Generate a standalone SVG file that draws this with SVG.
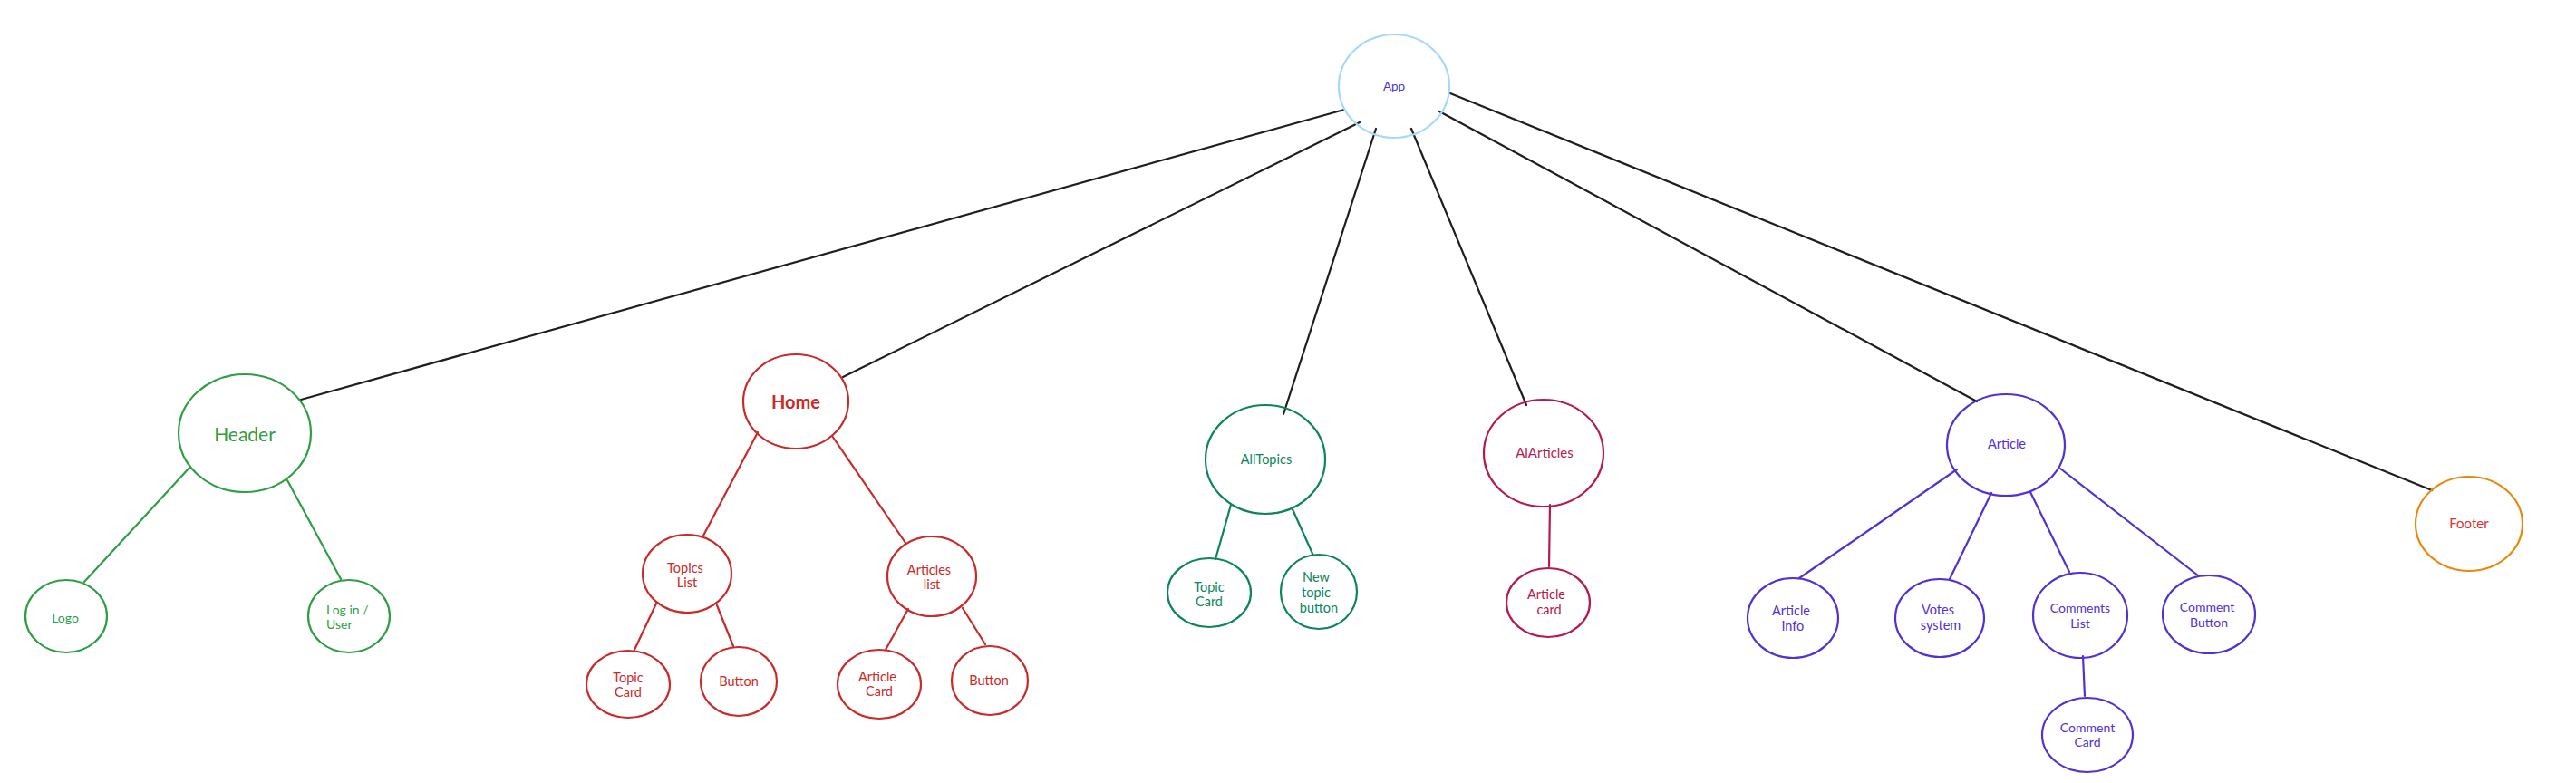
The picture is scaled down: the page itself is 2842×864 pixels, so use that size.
<svg xmlns="http://www.w3.org/2000/svg" width="2842" height="864" viewBox="0 0 2842 864">
<style>
text{font-family:"Lato","Noto Sans",sans-serif;text-anchor:middle;font-size:14px}
ellipse{fill:none;stroke-width:2.2}
line{stroke-width:2.2;stroke-linecap:round}
.blk{stroke:#1e1e1e}
.g{stroke:#2f9e44}.gt{fill:#2f9e44}
.r{stroke:#c92a2a}.rt{fill:#c92a2a}
.t{stroke:#0c8559}.tt{fill:#0c8559}
.c{stroke:#b5194d}.ct{fill:#b5194d}
.p{stroke:#5230d6}.pt{fill:#5230d6}
</style>
<rect width="2842" height="864" fill="#ffffff"/>
<g id="connectors">
<line class="blk" x1="1483" y1="121" x2="332" y2="441"/>
<line class="blk" x1="1500" y1="135" x2="930" y2="416" stroke-width="2.8"/>
<line class="blk" x1="1518" y1="142" x2="1416" y2="457" stroke-width="2.6"/>
<line class="blk" x1="1557" y1="142" x2="1684" y2="447" stroke-width="2.6"/>
<line class="blk" x1="1588" y1="123" x2="2181" y2="443"/>
<line class="blk" x1="1600" y1="103" x2="2683" y2="541" stroke-width="2.6"/>
<line class="g" x1="210" y1="515" x2="93" y2="642"/>
<line class="g" x1="317" y1="530" x2="376" y2="639"/>
<line class="r" x1="836" y1="477" x2="776" y2="591"/>
<line class="r" x1="918" y1="481" x2="999" y2="599"/>
<line class="r" x1="724" y1="666" x2="700" y2="717"/>
<line class="r" x1="791" y1="668" x2="809" y2="713"/>
<line class="r" x1="1002" y1="672" x2="977" y2="717"/>
<line class="r" x1="1062" y1="671" x2="1087" y2="711"/>
<line class="t" x1="1358" y1="557" x2="1341" y2="617"/>
<line class="t" x1="1426" y1="562" x2="1449" y2="613"/>
<line class="c" x1="1710" y1="557" x2="1709" y2="625"/>
<line class="p" x1="2159" y1="518" x2="1985" y2="638"/>
<line class="p" x1="2197" y1="544" x2="2151" y2="639"/>
<line class="p" x1="2240" y1="543" x2="2283" y2="631"/>
<line class="p" x1="2273" y1="517" x2="2425" y2="635"/>
<line class="p" x1="2298" y1="724" x2="2300" y2="768"/>
</g>
<g id="app"><ellipse cx="1538" cy="95" rx="61" ry="57" stroke="#a5d8ff"/><text x="1538" y="100" class="pt" style="font-size:13.5px">App</text></g>
<g id="header"><ellipse cx="270" cy="478" rx="73" ry="65" class="g"/><text x="270" y="487" class="gt" style="font-size:21px">Header</text></g>
<g id="logo"><ellipse cx="73" cy="680" rx="45" ry="40" class="g"/><text x="72" y="687" class="gt">Logo</text></g>
<g id="login"><ellipse cx="385" cy="680" rx="45" ry="40" class="g"/><text class="gt" style="text-anchor:start"><tspan x="360" y="678">Log in /</tspan><tspan x="360" y="694">User</tspan></text></g>
<g id="home"><ellipse cx="878" cy="443" rx="58" ry="52" class="r"/><text x="878" y="451" class="rt" style="font-size:20px;font-weight:bold">Home</text></g>
<g id="topics-list"><ellipse cx="758" cy="633" rx="49" ry="43" class="r"/><text class="rt" style="font-size:14.5px"><tspan x="756" y="632">Topics</tspan><tspan x="758" y="648">List</tspan></text></g>
<g id="articles-list"><ellipse cx="1028" cy="636" rx="49" ry="44" class="r"/><text class="rt" style="font-size:14.5px"><tspan x="1025" y="634">Articles</tspan><tspan x="1028" y="650">list</tspan></text></g>
<g id="topic-card"><ellipse cx="693" cy="755" rx="46" ry="37" class="r"/><text class="rt" style="font-size:14.5px"><tspan x="693" y="753">Topic</tspan><tspan x="693" y="769">Card</tspan></text></g>
<g id="button-1"><ellipse cx="815" cy="752" rx="42" ry="38" class="r"/><text x="815" y="757" class="rt" style="font-size:14.5px">Button</text></g>
<g id="article-card-home"><ellipse cx="970" cy="755" rx="46" ry="38" class="r"/><text class="rt" style="font-size:14.5px"><tspan x="968" y="752">Article</tspan><tspan x="970" y="768">Card</tspan></text></g>
<g id="button-2"><ellipse cx="1092" cy="751" rx="42" ry="38" class="r"/><text x="1091" y="756" class="rt" style="font-size:14.5px">Button</text></g>
<g id="alltopics"><ellipse cx="1396" cy="507" rx="66" ry="60" class="t"/><text x="1397" y="512" class="tt" style="font-size:14.5px">AllTopics</text></g>
<g id="topic-card-2"><ellipse cx="1334" cy="654" rx="46" ry="38" class="t"/><text class="tt" style="font-size:14.5px"><tspan x="1334" y="653">Topic</tspan><tspan x="1334" y="669">Card</tspan></text></g>
<g id="new-topic-button"><ellipse cx="1455" cy="653" rx="42" ry="41" class="t"/><text class="tt" style="font-size:14.5px"><tspan x="1452" y="642">New</tspan><tspan x="1452" y="659">topic</tspan><tspan x="1455" y="676">button</tspan></text></g>
<g id="alarticles"><ellipse cx="1703" cy="500" rx="66" ry="59" class="c"/><text x="1704" y="505" class="ct" style="font-size:15px">AlArticles</text></g>
<g id="article-card"><ellipse cx="1708" cy="665" rx="46" ry="38" class="c"/><text class="ct" style="font-size:14.5px"><tspan x="1706" y="661">Article</tspan><tspan x="1709" y="678">card</tspan></text></g>
<g id="article"><ellipse cx="2213" cy="491" rx="65" ry="56" class="p"/><text x="2214" y="495" class="pt" style="font-size:14.5px">Article</text></g>
<g id="article-info"><ellipse cx="1978" cy="682" rx="50" ry="44" class="p"/><text class="pt" style="font-size:14.5px"><tspan x="1976" y="679">Article</tspan><tspan x="1978" y="696">info</tspan></text></g>
<g id="votes-system"><ellipse cx="2140" cy="682" rx="49" ry="43" class="p"/><text class="pt" style="font-size:14.5px"><tspan x="2138" y="678">Votes</tspan><tspan x="2141" y="695">system</tspan></text></g>
<g id="comments-list"><ellipse cx="2295" cy="679" rx="52" ry="47" class="p"/><text class="pt" style="font-size:14px"><tspan x="2295" y="676">Comments</tspan><tspan x="2295" y="693">List</tspan></text></g>
<g id="comment-button"><ellipse cx="2437" cy="678" rx="51" ry="43" class="p"/><text class="pt" style="font-size:14px"><tspan x="2435" y="675">Comment</tspan><tspan x="2437" y="692">Button</tspan></text></g>
<g id="comment-card"><ellipse cx="2303" cy="811" rx="50" ry="41" class="p"/><text class="pt" style="font-size:14px"><tspan x="2303" y="808">Comment</tspan><tspan x="2303" y="824">Card</tspan></text></g>
<g id="footer"><ellipse cx="2724" cy="578" rx="59" ry="52" stroke="#e8890c"/><text x="2724" y="583" style="font-size:15px;fill:#e03131">Footer</text></g>
</svg>
